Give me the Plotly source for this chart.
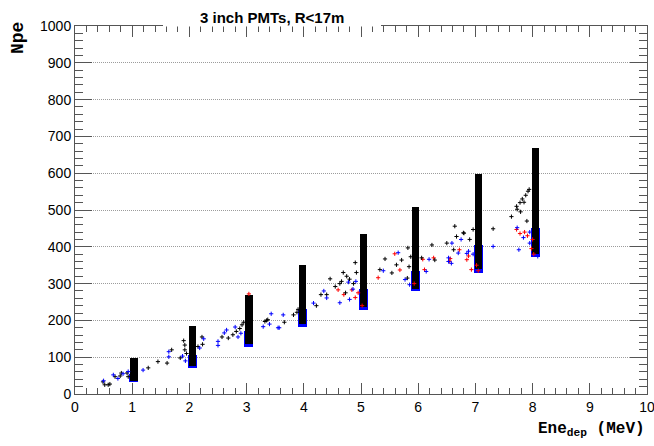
import plotly.graph_objects as go

# Dense response bands: one per deposited energy (MeV)
band_e = [1.03, 2.05, 3.04, 3.98, 5.04, 5.95, 7.05, 8.05]
band_black_lo = [36, 76, 136, 190, 236, 286, 340, 380]
band_black_hi = [98, 185, 268, 350, 435, 508, 598, 668]
band_blue_lo = [33, 70, 128, 183, 228, 279, 330, 372]
band_blue_hi = [55, 105, 170, 230, 285, 335, 405, 450]

# Scattered events outside the bands
black_e = [0.49, 0.52, 0.58, 0.61, 0.70, 0.79, 0.81, 0.93, 0.91,
           1.28, 1.45, 1.61, 1.69, 1.84, 1.92, 1.92, 1.90, 1.95,
           2.15, 2.22, 2.23, 2.57, 2.68, 2.76, 2.82, 2.92, 2.88, 2.95,
           3.32, 3.37, 3.35, 3.66, 3.82, 3.88, 3.90,
           4.22, 4.30, 4.40, 4.46, 4.55, 4.63, 4.66, 4.69, 4.73, 4.75, 4.80, 4.87, 4.90, 4.92,
           5.33, 5.42, 5.54, 5.62, 5.71, 5.81, 5.84, 5.87, 5.82,
           6.06, 6.24, 6.29, 6.50, 6.62, 6.64, 6.67, 6.79, 6.80, 6.96, 6.90,
           7.31, 7.63, 7.72, 7.73, 7.78, 7.79, 7.82, 7.85, 7.92, 7.94, 7.88, 7.90]
black_npe = [33, 25, 25, 27, 47, 49, 57, 47, 57,
             71, 88, 84, 120, 98, 120, 133, 145, 110,
             129, 155, 135, 155, 152, 161, 170, 188, 178, 195,
             197, 202, 200, 195, 215, 222, 230,
             240, 270, 270, 313, 292, 300, 306, 330, 275, 320, 312, 300, 357, 330,
             338, 367, 329, 351, 364, 315, 346, 373, 397,
             370, 405, 364, 410, 392, 456, 428, 438, 437, 447, 420,
             449, 482, 510, 502, 520, 495, 530, 521, 551, 556, 540, 470]

blue_e = [0.50, 0.67, 0.84, 0.93, 0.75, 1.19, 1.64, 1.64, 1.88, 1.93,
          2.18, 2.25, 2.50, 2.50, 2.61, 2.65, 2.80, 2.85, 2.90,
          3.29, 3.43, 3.55, 3.40, 3.57, 3.64,
          4.17, 4.35, 4.40, 4.63, 4.78, 4.80, 4.91, 4.86,
          5.39, 5.65, 5.77, 5.85, 6.14, 6.19,
          6.53, 6.59, 6.70, 6.85, 6.53, 6.58, 6.75, 6.88, 6.96,
          7.31, 7.73, 7.76, 7.84, 7.95, 8.09, 7.95]
blue_npe = [36, 52, 55, 61, 42, 65, 101, 115, 103, 90,
            125, 150, 143, 132, 166, 174, 182, 155, 165,
            183, 218, 180, 190, 180, 215,
            247, 280, 261, 248, 304, 257, 306, 285,
            335, 384, 311, 297, 333, 366,
            360, 410, 383, 382, 370, 355, 420, 388, 380,
            401, 452, 392, 425, 410, 374, 440]

red_e = [4.60, 4.70, 4.84, 4.95, 4.90, 5.30, 5.59, 5.68, 5.93,
         6.08, 6.11, 6.27, 6.56, 6.55, 6.72, 6.85, 6.93, 6.88, 7.02, 7.05,
         7.72, 7.78, 7.86, 7.91, 7.98, 8.02, 8.00, 5.02, 3.04]
red_npe = [283, 270, 283, 275, 262, 316, 381, 337, 300,
           366, 338, 370, 368, 361, 392, 365, 338, 375, 350, 335,
           447, 436, 440, 430, 395, 380, 420, 240, 272]

x_ticks = list(range(0, 11))
y_ticks = list(range(0, 1001, 100))

AXIS_COLOR = "#555555"
TICK_FONT = dict(family="Liberation Sans, Arial, sans-serif", size=14, color="black")
MONO = "Liberation Mono, Courier New, monospace"


def cross(color):
    return dict(symbol="cross-thin", size=3, color=color,
                line=dict(width=1, color=color))


fig = go.Figure()

fig.add_trace(go.Bar(
    x=band_e,
    y=[h - l for h, l in zip(band_blue_hi, band_blue_lo)],
    base=band_blue_lo, width=0.16,
    marker=dict(color="#0000ff", line=dict(width=0)),
    hoverinfo="skip", showlegend=False,
))
fig.add_trace(go.Scatter(x=red_e, y=red_npe, mode="markers",
                         marker=cross("#ff0000"), showlegend=False))
fig.add_trace(go.Bar(
    x=band_e,
    y=[h - l for h, l in zip(band_black_hi, band_black_lo)],
    base=band_black_lo, width=0.13,
    marker=dict(color="black", line=dict(width=0)),
    hoverinfo="skip", showlegend=False,
))
fig.add_trace(go.Scatter(x=black_e, y=black_npe, mode="markers",
                         marker=cross("black"), showlegend=False))
fig.add_trace(go.Scatter(x=blue_e, y=blue_npe, mode="markers",
                         marker=cross("#0000ff"), showlegend=False))

fig.update_layout(
    width=654, height=446, autosize=False,
    margin=dict(l=75, r=7, t=26, b=52, autoexpand=False),
    paper_bgcolor="white", plot_bgcolor="white",
    barmode="overlay", bargap=0,
    xaxis=dict(
        range=[0, 10], tickvals=x_ticks, ticktext=[str(v) for v in x_ticks],
        ticks="inside", ticklen=11, tickwidth=1, tickcolor=AXIS_COLOR,
        minor=dict(dtick=0.2, ticks="inside", ticklen=6, tickcolor=AXIS_COLOR,
                   showgrid=False),
        showline=True, linecolor=AXIS_COLOR, linewidth=1, mirror="ticks",
        showgrid=False, zeroline=False, tickfont=TICK_FONT,
        ticklabeloverflow="allow", automargin=False,
    ),
    yaxis=dict(
        range=[0, 1000], tickvals=y_ticks, ticktext=[str(v) for v in y_ticks],
        ticks="inside", ticklen=17, tickwidth=1, tickcolor=AXIS_COLOR,
        minor=dict(dtick=20, ticks="inside", ticklen=8, tickcolor=AXIS_COLOR,
                   showgrid=False),
        showline=True, linecolor=AXIS_COLOR, linewidth=1, mirror="ticks",
        showgrid=True, gridcolor="#9c9c9c", griddash="1px,1px", gridwidth=1,
        zeroline=False, tickfont=TICK_FONT, ticklabeloverflow="allow",
        automargin=False,
    ),
    shapes=[dict(type="rect", xref="paper", yref="paper",
                 x0=(163 - 75) / 572, x1=(381 - 75) / 572,
                 y0=1.0 - 0.5 / 368, y1=1.0 + 26.0 / 368 + 0.01,
                 fillcolor="white", line=dict(width=0), layer="above")],
    annotations=[
        dict(text="3 inch PMTs, R<17m", xref="paper", yref="paper",
             x=(272 - 75) / 572, y=1.0 + 8.0 / 368, xanchor="center", yanchor="middle",
             showarrow=False,
             font=dict(family="Liberation Sans, Arial, sans-serif", size=15, color="black",
                       weight="bold")),
        dict(text="Npe", xref="paper", yref="paper",
             x=-57.0 / 572, y=1.0 - 12.0 / 368, xanchor="center", yanchor="middle",
             textangle=-90, showarrow=False,
             font=dict(family=MONO, size=18, color="black", weight="bold")),
        dict(text="Ene<sub>dep</sub>&nbsp;(MeV)", xref="paper", yref="paper",
             x=1.0, y=-24.0 / 368, xanchor="right", yanchor="top",
             showarrow=False,
             font=dict(family=MONO, size=16, color="black", weight="bold")),
    ],
)

fig.write_html("out.html")
